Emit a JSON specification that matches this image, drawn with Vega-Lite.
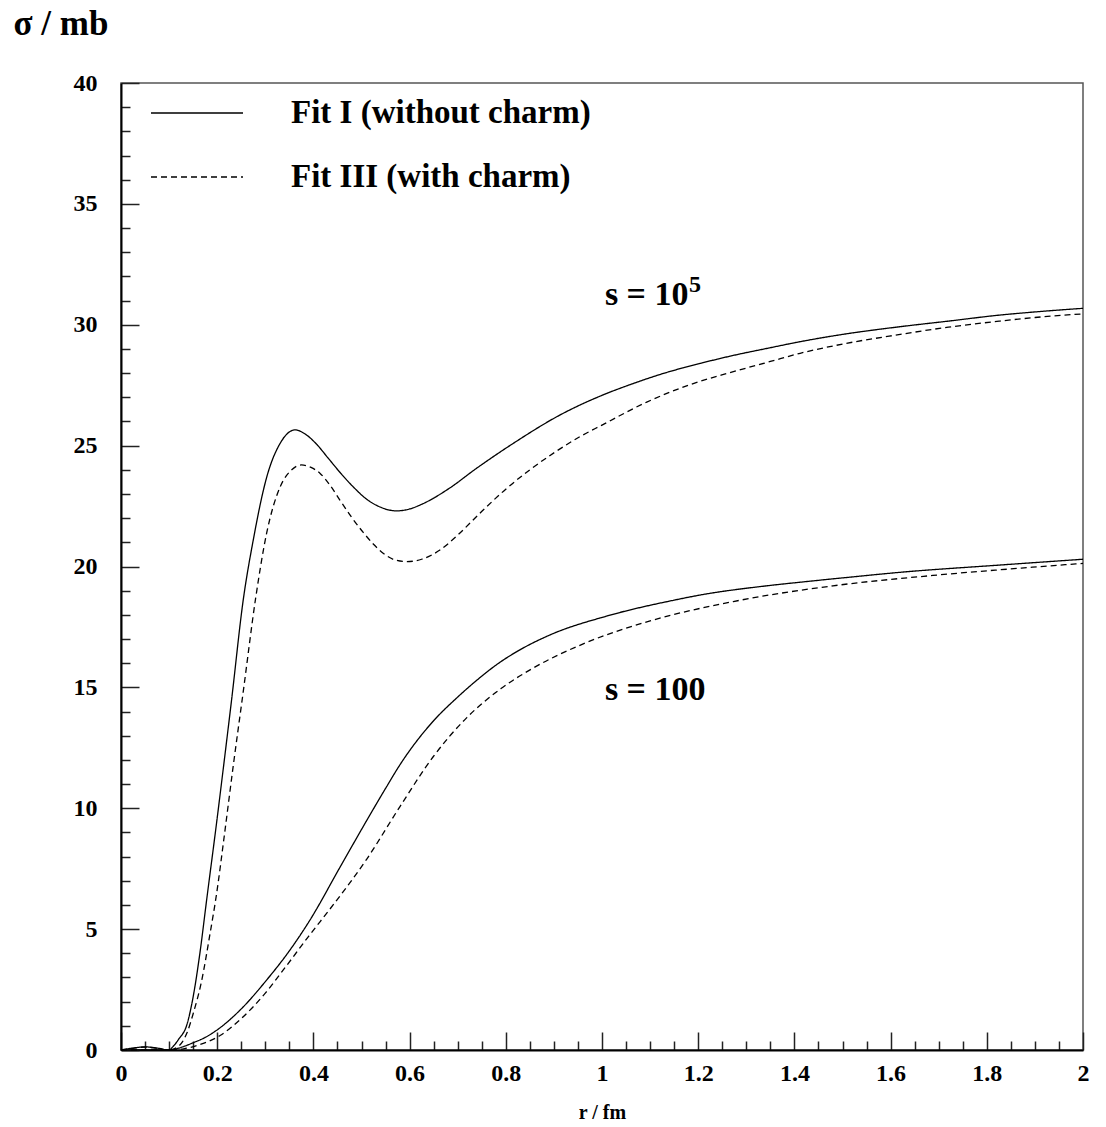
{
  "$schema": "https://vega.github.io/schema/vega-lite/v6.json",
  "width": 962,
  "height": 967,
  "autosize": {"type": "none"},
  "padding": {"left": 121, "top": 83, "right": 23, "bottom": 77},
  "background": "white",
  "config": {
    "font": "Liberation Serif",
    "view": {"stroke": "#555555", "strokeWidth": 1.5},
    "axis": {"grid": false, "domainColor": "black", "domainWidth": 2, "tickColor": "#222222", "tickWidth": 1.5,
             "labelFont": "Liberation Serif", "labelFontWeight": "bold", "labelFontSize": 24, "labelColor": "black",
             "titleFont": "Liberation Serif", "titleFontWeight": "bold", "titleColor": "black"}
  },
  "encoding": {
    "x": {"field": "r", "type": "quantitative",
          "scale": {"domain": [0, 2], "nice": false, "zero": false},
          "axis": {
            "title": "r / fm", "titleFontSize": 20, "titleX": 481, "titleY": 68, "titleAlign": "center", "titleBaseline": "alphabetic",
            "tickCount": 40,
            "labelExpr": "abs(round(datum.value*5)-datum.value*5) < 0.000001 ? format(datum.value, '~g') : ''",
            "tickSize": {"condition": {"test": "abs(round(datum.value*5)-datum.value*5) < 0.000001", "value": -18}, "value": -9},
            "labelPadding": 29, "labelOverlap": false, "labelFlush": false, "labelBaseline": "top"
          }},
    "y": {"field": "sigma", "type": "quantitative",
          "scale": {"domain": [0, 40], "nice": false},
          "axis": {
            "title": "σ / mb", "titleFontSize": 35, "titleAngle": 0, "titleX": -108, "titleY": -49, "titleAlign": "left", "titleBaseline": "alphabetic",
            "tickCount": 40,
            "labelExpr": "datum.value % 5 === 0 ? format(datum.value, 'd') : ''",
            "tickSize": {"condition": {"test": "datum.value % 5 === 0", "value": -18}, "value": -9},
            "labelPadding": 42, "labelOverlap": false, "labelFlush": false
          }}
  },
  "layer": [
    {
      "data": {"values": [
        {"r":0,"sigma":0,"s":"1e5","fit":"Fit I (without charm)"},
        {"r":0.025,"sigma":0.08,"s":"1e5","fit":"Fit I (without charm)"},
        {"r":0.05,"sigma":0.13,"s":"1e5","fit":"Fit I (without charm)"},
        {"r":0.075,"sigma":0.08,"s":"1e5","fit":"Fit I (without charm)"},
        {"r":0.1,"sigma":0,"s":"1e5","fit":"Fit I (without charm)"},
        {"r":0.108,"sigma":0.14,"s":"1e5","fit":"Fit I (without charm)"},
        {"r":0.12,"sigma":0.45,"s":"1e5","fit":"Fit I (without charm)"},
        {"r":0.137,"sigma":1.05,"s":"1e5","fit":"Fit I (without charm)"},
        {"r":0.15,"sigma":2.2,"s":"1e5","fit":"Fit I (without charm)"},
        {"r":0.164,"sigma":4.0,"s":"1e5","fit":"Fit I (without charm)"},
        {"r":0.178,"sigma":6.2,"s":"1e5","fit":"Fit I (without charm)"},
        {"r":0.2,"sigma":9.6,"s":"1e5","fit":"Fit I (without charm)"},
        {"r":0.213,"sigma":11.7,"s":"1e5","fit":"Fit I (without charm)"},
        {"r":0.23,"sigma":14.5,"s":"1e5","fit":"Fit I (without charm)"},
        {"r":0.254,"sigma":18.6,"s":"1e5","fit":"Fit I (without charm)"},
        {"r":0.275,"sigma":21.1,"s":"1e5","fit":"Fit I (without charm)"},
        {"r":0.303,"sigma":23.7,"s":"1e5","fit":"Fit I (without charm)"},
        {"r":0.331,"sigma":25.1,"s":"1e5","fit":"Fit I (without charm)"},
        {"r":0.362,"sigma":25.65,"s":"1e5","fit":"Fit I (without charm)"},
        {"r":0.385,"sigma":25.45,"s":"1e5","fit":"Fit I (without charm)"},
        {"r":0.407,"sigma":25.05,"s":"1e5","fit":"Fit I (without charm)"},
        {"r":0.43,"sigma":24.5,"s":"1e5","fit":"Fit I (without charm)"},
        {"r":0.455,"sigma":23.9,"s":"1e5","fit":"Fit I (without charm)"},
        {"r":0.485,"sigma":23.25,"s":"1e5","fit":"Fit I (without charm)"},
        {"r":0.511,"sigma":22.78,"s":"1e5","fit":"Fit I (without charm)"},
        {"r":0.54,"sigma":22.45,"s":"1e5","fit":"Fit I (without charm)"},
        {"r":0.573,"sigma":22.3,"s":"1e5","fit":"Fit I (without charm)"},
        {"r":0.6,"sigma":22.38,"s":"1e5","fit":"Fit I (without charm)"},
        {"r":0.628,"sigma":22.6,"s":"1e5","fit":"Fit I (without charm)"},
        {"r":0.68,"sigma":23.2,"s":"1e5","fit":"Fit I (without charm)"},
        {"r":0.739,"sigma":24.06,"s":"1e5","fit":"Fit I (without charm)"},
        {"r":0.816,"sigma":25.1,"s":"1e5","fit":"Fit I (without charm)"},
        {"r":0.913,"sigma":26.27,"s":"1e5","fit":"Fit I (without charm)"},
        {"r":1.0,"sigma":27.08,"s":"1e5","fit":"Fit I (without charm)"},
        {"r":1.058,"sigma":27.52,"s":"1e5","fit":"Fit I (without charm)"},
        {"r":1.13,"sigma":28.0,"s":"1e5","fit":"Fit I (without charm)"},
        {"r":1.204,"sigma":28.4,"s":"1e5","fit":"Fit I (without charm)"},
        {"r":1.266,"sigma":28.7,"s":"1e5","fit":"Fit I (without charm)"},
        {"r":1.35,"sigma":29.05,"s":"1e5","fit":"Fit I (without charm)"},
        {"r":1.412,"sigma":29.3,"s":"1e5","fit":"Fit I (without charm)"},
        {"r":1.5,"sigma":29.6,"s":"1e5","fit":"Fit I (without charm)"},
        {"r":1.62,"sigma":29.92,"s":"1e5","fit":"Fit I (without charm)"},
        {"r":1.72,"sigma":30.15,"s":"1e5","fit":"Fit I (without charm)"},
        {"r":1.827,"sigma":30.4,"s":"1e5","fit":"Fit I (without charm)"},
        {"r":1.9,"sigma":30.53,"s":"1e5","fit":"Fit I (without charm)"},
        {"r":2.0,"sigma":30.68,"s":"1e5","fit":"Fit I (without charm)"},

        {"r":0,"sigma":0,"s":"1e5","fit":"Fit III (with charm)"},
        {"r":0.025,"sigma":0.07,"s":"1e5","fit":"Fit III (with charm)"},
        {"r":0.05,"sigma":0.12,"s":"1e5","fit":"Fit III (with charm)"},
        {"r":0.075,"sigma":0.07,"s":"1e5","fit":"Fit III (with charm)"},
        {"r":0.1,"sigma":0,"s":"1e5","fit":"Fit III (with charm)"},
        {"r":0.116,"sigma":0.1,"s":"1e5","fit":"Fit III (with charm)"},
        {"r":0.128,"sigma":0.35,"s":"1e5","fit":"Fit III (with charm)"},
        {"r":0.137,"sigma":0.7,"s":"1e5","fit":"Fit III (with charm)"},
        {"r":0.15,"sigma":1.5,"s":"1e5","fit":"Fit III (with charm)"},
        {"r":0.167,"sigma":2.8,"s":"1e5","fit":"Fit III (with charm)"},
        {"r":0.185,"sigma":4.8,"s":"1e5","fit":"Fit III (with charm)"},
        {"r":0.199,"sigma":6.5,"s":"1e5","fit":"Fit III (with charm)"},
        {"r":0.215,"sigma":8.9,"s":"1e5","fit":"Fit III (with charm)"},
        {"r":0.233,"sigma":11.7,"s":"1e5","fit":"Fit III (with charm)"},
        {"r":0.254,"sigma":14.8,"s":"1e5","fit":"Fit III (with charm)"},
        {"r":0.28,"sigma":18.7,"s":"1e5","fit":"Fit III (with charm)"},
        {"r":0.303,"sigma":21.4,"s":"1e5","fit":"Fit III (with charm)"},
        {"r":0.331,"sigma":23.3,"s":"1e5","fit":"Fit III (with charm)"},
        {"r":0.355,"sigma":24.0,"s":"1e5","fit":"Fit III (with charm)"},
        {"r":0.375,"sigma":24.2,"s":"1e5","fit":"Fit III (with charm)"},
        {"r":0.395,"sigma":24.1,"s":"1e5","fit":"Fit III (with charm)"},
        {"r":0.414,"sigma":23.85,"s":"1e5","fit":"Fit III (with charm)"},
        {"r":0.435,"sigma":23.35,"s":"1e5","fit":"Fit III (with charm)"},
        {"r":0.455,"sigma":22.75,"s":"1e5","fit":"Fit III (with charm)"},
        {"r":0.48,"sigma":22.02,"s":"1e5","fit":"Fit III (with charm)"},
        {"r":0.504,"sigma":21.4,"s":"1e5","fit":"Fit III (with charm)"},
        {"r":0.525,"sigma":20.92,"s":"1e5","fit":"Fit III (with charm)"},
        {"r":0.545,"sigma":20.55,"s":"1e5","fit":"Fit III (with charm)"},
        {"r":0.57,"sigma":20.27,"s":"1e5","fit":"Fit III (with charm)"},
        {"r":0.594,"sigma":20.2,"s":"1e5","fit":"Fit III (with charm)"},
        {"r":0.625,"sigma":20.3,"s":"1e5","fit":"Fit III (with charm)"},
        {"r":0.663,"sigma":20.68,"s":"1e5","fit":"Fit III (with charm)"},
        {"r":0.7,"sigma":21.3,"s":"1e5","fit":"Fit III (with charm)"},
        {"r":0.746,"sigma":22.2,"s":"1e5","fit":"Fit III (with charm)"},
        {"r":0.8,"sigma":23.2,"s":"1e5","fit":"Fit III (with charm)"},
        {"r":0.85,"sigma":24.0,"s":"1e5","fit":"Fit III (with charm)"},
        {"r":0.9,"sigma":24.7,"s":"1e5","fit":"Fit III (with charm)"},
        {"r":0.954,"sigma":25.37,"s":"1e5","fit":"Fit III (with charm)"},
        {"r":1.0,"sigma":25.85,"s":"1e5","fit":"Fit III (with charm)"},
        {"r":1.093,"sigma":26.8,"s":"1e5","fit":"Fit III (with charm)"},
        {"r":1.18,"sigma":27.5,"s":"1e5","fit":"Fit III (with charm)"},
        {"r":1.266,"sigma":28.02,"s":"1e5","fit":"Fit III (with charm)"},
        {"r":1.35,"sigma":28.48,"s":"1e5","fit":"Fit III (with charm)"},
        {"r":1.412,"sigma":28.82,"s":"1e5","fit":"Fit III (with charm)"},
        {"r":1.5,"sigma":29.2,"s":"1e5","fit":"Fit III (with charm)"},
        {"r":1.62,"sigma":29.6,"s":"1e5","fit":"Fit III (with charm)"},
        {"r":1.72,"sigma":29.9,"s":"1e5","fit":"Fit III (with charm)"},
        {"r":1.827,"sigma":30.15,"s":"1e5","fit":"Fit III (with charm)"},
        {"r":1.9,"sigma":30.3,"s":"1e5","fit":"Fit III (with charm)"},
        {"r":2.0,"sigma":30.45,"s":"1e5","fit":"Fit III (with charm)"},

        {"r":0,"sigma":0,"s":"100","fit":"Fit I (without charm)"},
        {"r":0.1,"sigma":0,"s":"100","fit":"Fit I (without charm)"},
        {"r":0.12,"sigma":0.08,"s":"100","fit":"Fit I (without charm)"},
        {"r":0.15,"sigma":0.3,"s":"100","fit":"Fit I (without charm)"},
        {"r":0.175,"sigma":0.52,"s":"100","fit":"Fit I (without charm)"},
        {"r":0.199,"sigma":0.82,"s":"100","fit":"Fit I (without charm)"},
        {"r":0.25,"sigma":1.7,"s":"100","fit":"Fit I (without charm)"},
        {"r":0.303,"sigma":2.9,"s":"100","fit":"Fit I (without charm)"},
        {"r":0.35,"sigma":4.1,"s":"100","fit":"Fit I (without charm)"},
        {"r":0.393,"sigma":5.38,"s":"100","fit":"Fit I (without charm)"},
        {"r":0.455,"sigma":7.55,"s":"100","fit":"Fit I (without charm)"},
        {"r":0.511,"sigma":9.5,"s":"100","fit":"Fit I (without charm)"},
        {"r":0.55,"sigma":10.82,"s":"100","fit":"Fit I (without charm)"},
        {"r":0.58,"sigma":11.8,"s":"100","fit":"Fit I (without charm)"},
        {"r":0.649,"sigma":13.6,"s":"100","fit":"Fit I (without charm)"},
        {"r":0.7,"sigma":14.6,"s":"100","fit":"Fit I (without charm)"},
        {"r":0.74,"sigma":15.3,"s":"100","fit":"Fit I (without charm)"},
        {"r":0.788,"sigma":16.04,"s":"100","fit":"Fit I (without charm)"},
        {"r":0.823,"sigma":16.48,"s":"100","fit":"Fit I (without charm)"},
        {"r":0.892,"sigma":17.17,"s":"100","fit":"Fit I (without charm)"},
        {"r":1.01,"sigma":17.95,"s":"100","fit":"Fit I (without charm)"},
        {"r":1.148,"sigma":18.6,"s":"100","fit":"Fit I (without charm)"},
        {"r":1.204,"sigma":18.82,"s":"100","fit":"Fit I (without charm)"},
        {"r":1.342,"sigma":19.2,"s":"100","fit":"Fit I (without charm)"},
        {"r":1.412,"sigma":19.35,"s":"100","fit":"Fit I (without charm)"},
        {"r":1.516,"sigma":19.56,"s":"100","fit":"Fit I (without charm)"},
        {"r":1.62,"sigma":19.76,"s":"100","fit":"Fit I (without charm)"},
        {"r":1.827,"sigma":20.06,"s":"100","fit":"Fit I (without charm)"},
        {"r":2.0,"sigma":20.3,"s":"100","fit":"Fit I (without charm)"},

        {"r":0,"sigma":0,"s":"100","fit":"Fit III (with charm)"},
        {"r":0.1,"sigma":0,"s":"100","fit":"Fit III (with charm)"},
        {"r":0.13,"sigma":0.05,"s":"100","fit":"Fit III (with charm)"},
        {"r":0.16,"sigma":0.2,"s":"100","fit":"Fit III (with charm)"},
        {"r":0.206,"sigma":0.6,"s":"100","fit":"Fit III (with charm)"},
        {"r":0.25,"sigma":1.3,"s":"100","fit":"Fit III (with charm)"},
        {"r":0.3,"sigma":2.35,"s":"100","fit":"Fit III (with charm)"},
        {"r":0.337,"sigma":3.3,"s":"100","fit":"Fit III (with charm)"},
        {"r":0.39,"sigma":4.7,"s":"100","fit":"Fit III (with charm)"},
        {"r":0.441,"sigma":6.0,"s":"100","fit":"Fit III (with charm)"},
        {"r":0.511,"sigma":7.9,"s":"100","fit":"Fit III (with charm)"},
        {"r":0.58,"sigma":10.07,"s":"100","fit":"Fit III (with charm)"},
        {"r":0.649,"sigma":12.13,"s":"100","fit":"Fit III (with charm)"},
        {"r":0.719,"sigma":13.75,"s":"100","fit":"Fit III (with charm)"},
        {"r":0.79,"sigma":14.95,"s":"100","fit":"Fit III (with charm)"},
        {"r":0.857,"sigma":15.8,"s":"100","fit":"Fit III (with charm)"},
        {"r":0.961,"sigma":16.8,"s":"100","fit":"Fit III (with charm)"},
        {"r":1.1,"sigma":17.75,"s":"100","fit":"Fit III (with charm)"},
        {"r":1.273,"sigma":18.55,"s":"100","fit":"Fit III (with charm)"},
        {"r":1.48,"sigma":19.2,"s":"100","fit":"Fit III (with charm)"},
        {"r":1.688,"sigma":19.63,"s":"100","fit":"Fit III (with charm)"},
        {"r":1.85,"sigma":19.9,"s":"100","fit":"Fit III (with charm)"},
        {"r":2.0,"sigma":20.13,"s":"100","fit":"Fit III (with charm)"}
      ]},
      "mark": {"type": "line", "interpolate": "monotone", "color": "black", "strokeWidth": 1.3},
      "encoding": {
        "detail": {"field": "s"},
        "strokeDash": {"field": "fit", "type": "nominal",
                       "scale": {"domain": ["Fit I (without charm)", "Fit III (with charm)"], "range": [[1, 0], [6, 4]]},
                       "legend": {"title": null, "orient": "none", "legendX": 29, "legendY": -17, "padding": 0,
                                  "symbolType": "stroke", "symbolSize": 8464, "symbolStrokeWidth": 1.3, "symbolStrokeColor": "black",
                                  "labelFont": "Liberation Serif", "labelFontWeight": "bold", "labelFontSize": 33, "labelColor": "black",
                                  "labelOffset": 47, "rowPadding": 0, "labelLimit": 500}}
      }
    },
    {
      "data": {"values": [
        {"label": "s = 10", "r": 1.006, "sigma": 30.82},
        {"label": "s = 100", "r": 1.006, "sigma": 14.48}
      ]},
      "mark": {"type": "text", "align": "left", "baseline": "alphabetic", "font": "Liberation Serif", "fontWeight": "bold", "fontSize": 34, "color": "black"},
      "encoding": {"text": {"field": "label"}}
    },
    {
      "data": {"values": [
        {"label": "5", "r": 1.181, "sigma": 31.35}
      ]},
      "mark": {"type": "text", "align": "left", "baseline": "alphabetic", "font": "Liberation Serif", "fontWeight": "bold", "fontSize": 24, "color": "black"},
      "encoding": {"text": {"field": "label"}}
    }
  ]
}
